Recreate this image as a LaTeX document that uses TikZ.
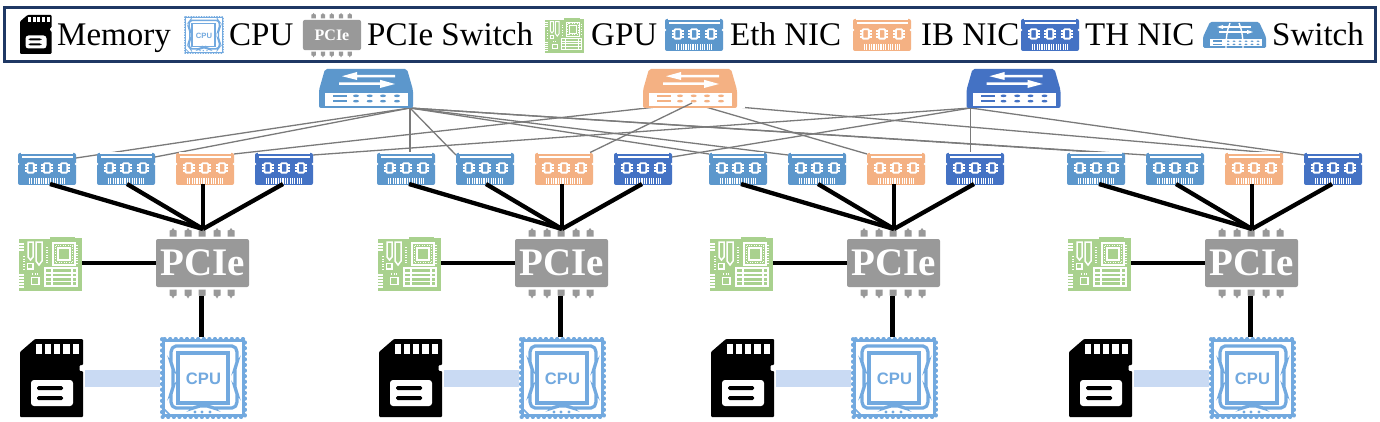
\documentclass[tikz,border=0pt]{standalone}
\usepackage{fontspec}
\setmainfont{Liberation Serif}
\newfontfamily\helvfam{Liberation Sans}
\usetikzlibrary{calc}
\definecolor{ethc}{HTML}{5C97CC}
\definecolor{ibc}{HTML}{F4B183}
\definecolor{thc}{HTML}{4472C4}
\definecolor{gpuc}{HTML}{A9D18E}
\definecolor{pciec}{HTML}{999999}
\definecolor{cpuc}{HTML}{72A9DF}
\definecolor{barc}{HTML}{C9DAF3}
\definecolor{navyc}{HTML}{1F3864}
\definecolor{linkc}{HTML}{7A7A7A}
\tikzset{
  iconbody/.style={shape=rectangle,inner sep=0pt,outer sep=0pt,draw=none,rounded corners=2pt},
  legendtext/.style={anchor=base west,inner sep=0pt,font=\fontsize{33}{33}\selectfont},
  thinlink/.style={draw=linkc,line width=1.3pt},
  thicklink/.style={draw=black,line width=4.3pt},
  membar/.style={fill=barc,draw=none,shape=rectangle,inner sep=0pt,outer sep=0pt},
}
% NIC: name, cx, cy, colour
\newcommand\nicicon[4]{%
  \node[iconbody,fill=#4,minimum width=58pt,minimum height=32pt] (#1) at (#2,#3) {};
  \begin{scope}[shift={(#1.north west)}]
    \fill[white] (2.6,-0.5) rectangle (55.4,1.4);
    \fill[white] (3.5,3.4) rectangle (54.5,4.9);
    \fill[white] (0,11) circle (1.3);
    \fill[white] (58,11) circle (1.3);
    \foreach \cx in {12.7,29,46}{
      \draw[white,line width=1.9pt,rounded corners=1pt] (\cx-3.2,10.3) rectangle (\cx+3.2,19.7);
      \foreach \py in {12,15,18}{
        \draw[white,line width=1.1pt] (\cx-5.8,\py) -- (\cx-3,\py);
        \draw[white,line width=1.1pt] (\cx+3,\py) -- (\cx+5.8,\py);
      }
    }
    \foreach \k in {0,...,15}{
      \fill[white] (11+\k*2.35,25.5) rectangle (12.1+\k*2.35,31);
    }
  \end{scope}
}
% big switch: name, cx, cy, colour
\newcommand\switchicon[4]{%
  \node[iconbody,minimum width=94pt,minimum height=39pt] (#1) at (#2,#3) {};
  \begin{scope}[shift={(#1.north west)}]
    \fill[#4,rounded corners=2pt] (6,0) -- (88,0) -- (94,21) -- (94,39) -- (0,39) -- (0,21) -- cycle;
    \fill[white] (6,24) rectangle (89,37);
    \fill[#4] (14,25.6) rectangle (28,28); \fill[#4] (14,31) rectangle (28,33.4);
    \foreach \cx in {37,50.7,64,78}{
      \fill[#4] (\cx,26.8) ellipse (3 and 1.3);
      \fill[#4] (\cx,32.2) ellipse (3 and 1.3);
    }
    \fill[white] (76,6) -- (38,6) -- (38,3) -- (23,7.2) -- (38,11) -- (38,8.4) -- (76,8.4) -- cycle;
    \fill[white] (20,13.4) -- (61,13.4) -- (61,10.8) -- (76,15) -- (61,19) -- (61,15.8) -- (20,15.8) -- cycle;
  \end{scope}
}
% legend switch: name, cx, cy, colour
\newcommand\smallswitchicon[4]{%
  \node[iconbody,minimum width=63pt,minimum height=26pt] (#1) at (#2,#3) {};
  \begin{scope}[shift={(#1.north west)}]
    \fill[#4,rounded corners=1.5pt] (7,0) -- (56,0) -- (63,15) -- (63,26) -- (0,26) -- (0,15) -- cycle;
    \fill[white] (7,17) rectangle (59,24.5);
    \fill[#4] (10,18.4) rectangle (19,20); \fill[#4] (10,21.6) rectangle (19,23.2);
    \foreach \cx in {25,31,37,43,49,55}{
      \fill[#4] (\cx,19.2) ellipse (1.6 and 0.8);
      \fill[#4] (\cx,22.4) ellipse (1.6 and 0.8);
    }
    \draw[white,line width=1.4pt] (16,5) -- (48,5);
    \draw[white,line width=1.4pt] (16,10) -- (48,10);
    \draw[white,line width=1.4pt] (27,1) .. controls (24,8) and (23,16) .. (23,26);
    \draw[white,line width=1.4pt] (36,1) .. controls (39,8) and (40,16) .. (40,26);
    \fill[white] (14,5) -- (20,3) -- (20,7) -- cycle;
    \fill[white] (50,10) -- (44,8) -- (44,12) -- cycle;
  \end{scope}
}
% PCIe: name, cx, cy(body), xscale, yscale, font size
\newcommand\pcieicon[6]{%
  \node[iconbody,fill=pciec,minimum width=#4*93pt,minimum height=#5*48pt,text=white,
        font=\bfseries\fontsize{#6}{#6}\selectfont] (#1) at (#2,#3) {PCIe};
  \begin{scope}[shift={(#1.north west)},xscale=#4,yscale=#5]
    \foreach \cx in {17,32,46,61,75}{
      \fill[pciec] (\cx-3.5,-2.5) -- (\cx-3.5,-8.5) -- (\cx-1.5,-9) -- (\cx,-11) -- (\cx+1.5,-9) -- (\cx+3.5,-8.5) -- (\cx+3.5,-2.5) -- cycle;
      \fill[pciec] (\cx-3.5,50.5) -- (\cx-3.5,56.5) -- (\cx-1.5,57) -- (\cx,59.5) -- (\cx+1.5,57) -- (\cx+3.5,56.5) -- (\cx+3.5,50.5) -- cycle;
    }
  \end{scope}
}
% GPU: name, cx, cy, scale
\newcommand\gpuicon[4]{%
  \node[iconbody,rounded corners=0pt,fill=gpuc,minimum width=#4*63pt,minimum height=#4*54pt] (#1) at (#2,#3) {};
  \begin{scope}[shift={(#1.north west)},scale=#4,draw=white,line width=#4*1.5pt]
    \fill[white] (-0.5,-0.5) rectangle (31,1.8);
    \fill[white] (56,-0.5) rectangle (63.5,0.8);
    \foreach \yy in {7,10,13}{\draw[white] (0,\yy) -- (5,\yy);}
    \foreach \yy in {38,41,44,47,50}{\draw[white] (0,\yy) -- (5,\yy);}
    \draw[white] (34,6) rectangle (56,28);
    \draw[white] (39,11) rectangle (51,23);
    \draw[white,dash pattern=on 1pt off 1.5pt] (36.5,8.5) rectangle (53.5,25.5);
    \draw[white] (9,5) -- (14,5) -- (14,20) -- (11.5,23) -- (9,20) -- cycle;
    \draw[white] (17,5) -- (23,5) -- (23,24) -- (20,28) -- (17,24) -- cycle;
    \draw[white] (8.5,26.5) rectangle (14,32);
    \draw[white] (12.5,40.5) rectangle (20,47.5);
    \draw[white,dash pattern=on 1pt off 1.5pt] (13,37) -- (20,37);
    \draw[white,dash pattern=on 1pt off 1.5pt] (28,10) -- (28,27);
    \draw[white,dash pattern=on 1pt off 1.5pt] (5,19) -- (5,32);
    \draw[white] (26,31) rectangle (58,49);
    \draw[white] (26,36) -- (58,36);
    \draw[white] (26,40) -- (58,40);
    \draw[white] (26,44.5) -- (58,44.5);
    \draw[white] (33,31) -- (33,49);
    \draw[white] (53,31) -- (53,49);
    \draw[white,dash pattern=on 1pt off 1.5pt] (58,8) -- (58,27);
  \end{scope}
}
% Memory: name, cx, cy, scale
\newcommand\memicon[4]{%
  \node[iconbody,minimum width=#4*64pt,minimum height=#4*78pt] (#1) at (#2,#3) {};
  \begin{scope}[shift={(#1.north west)},scale=#4]
    \fill[black,rounded corners=1pt] (0,13) -- (15,0) -- (63,0) -- (63,26) -- (59.5,26) -- (59.5,32) -- (63,32) -- (63,78) -- (0,78) -- cycle;
    \foreach \xa/\xb in {16/22,25/31,34/40,43/49.5,53/59}{
      \fill[white] (\xa,5) rectangle (\xb,15);
    }
    \fill[white,rounded corners=3pt] (11,41) rectangle (53,67);
    \fill[black,rounded corners=1.5pt] (17,47) rectangle (43,51);
    \fill[black,rounded corners=1.5pt] (17,57) rectangle (43,61);
  \end{scope}
}
% CPU: name, cx, cy, scale
\newcommand\cpuicon[4]{%
  \node[iconbody,rounded corners=0pt,minimum width=#4*87pt,minimum height=#4*82pt] (#1) at (#2,#3) {};
  \pgfmathsetmacro\cpuon{0.5*#4}
  \pgfmathsetmacro\cpugap{5.1*#4}
  \begin{scope}[shift={(#1.north west)},scale=#4]
    \draw[cpuc,line width=#4*3.8pt,line cap=round,dash pattern=on \cpuon pt off \cpugap pt] (2,2) rectangle (85,80);
    \draw[cpuc,line width=#4*2.2pt] (3.5,3.5) rectangle (83.5,78.5);
    \draw[cpuc,line width=#4*3.2pt,rounded corners=2pt] (14,9) -- (74,9) -- (77,13) -- (77,27) -- (75,30) -- (75,52) -- (77,55) -- (77,67) -- (74,71) -- (52,71) -- (49,69) -- (38,69) -- (35,71) -- (14,71) -- (11,67) -- (11,55) -- (13,52) -- (13,30) -- (11,27) -- (11,13) -- cycle;
    \draw[cpuc,line width=#4*3.6pt] (18,16) rectangle (68,66);
    \node[transform shape,inner sep=0pt,text=cpuc,font=\helvfam\bfseries\fontsize{16.6}{17}\selectfont] (#1t) at (43.5,42) {CPU};
    \foreach \cx in {35,42,50}{\fill[cpuc] (\cx,75) circle (1.6);}
    \draw[cpuc,line width=#4*1.6pt] (4,72) -- (10,78);
  \end{scope}
}
% server group: number, x offset
\newcommand\servergroup[2]{%
  \nicicon{g#1n1}{47+#2}{169}{ethc}
  \nicicon{g#1n2}{126+#2}{169}{ethc}
  \nicicon{g#1n3}{205+#2}{169}{ibc}
  \nicicon{g#1n4}{284+#2}{169}{thc}
  \pcieicon{g#1p}{202.5+#2}{263}{1}{1}{39}
  \gpuicon{g#1g}{50.5+#2}{264}{1}
  \memicon{g#1m}{52+#2}{378}{1}
  \cpuicon{g#1c}{203.5+#2}{378}{1}
  \coordinate (g#1hub) at (203+#2,229);
  \coordinate (g#1pb) at ([xshift=-1pt,yshift=-9pt]g#1p.south);
  \draw[thicklink] ([xshift=3pt,yshift=1pt]g#1n1.south) -- (g#1hub);
  \draw[thicklink] ([xshift=1pt,yshift=1pt]g#1n2.south) -- (g#1hub);
  \draw[thicklink] ([yshift=1pt]g#1n3.south -| g#1hub) -- (g#1hub);
  \draw[thicklink] ([xshift=-1pt,yshift=1pt]g#1n4.south) -- (g#1hub);
  \draw[thicklink] (g#1g.east |- g#1p.west) -- (g#1p.west);
  \draw[thicklink] (g#1pb) -- (g#1pb |- g#1c.north);
  \path let \p1=(g#1m.east), \p2=(g#1c.west) in
    node[membar,minimum height=17pt,minimum width=\x2-\x1-1pt,anchor=east] (g#1b) at ([yshift=-0.5pt]g#1c.west) {};
}
\begin{document}
\begin{tikzpicture}[x=1pt,y=-1pt]
\useasboundingbox (0,0) rectangle (1380,422);
\fill[white] (0,0) rectangle (1380,422);
% legend
\node[shape=rectangle,draw=navyc,line width=2.5pt,fill=white,minimum width=1371pt,minimum height=54pt,inner sep=0pt] (legend) at (690,34.5) {};
\memicon{lm}{36}{34.5}{0.5}
\node[legendtext] (lmt) at (57,46) {Memory};
\cpuicon{lc}{204}{35}{0.46}
\node[legendtext] (lct) at (229,46) {CPU};
\pcieicon{lp}{332}{35}{0.624}{0.63}{16}
\node[legendtext] (lpt) at (367,46) {PCIe Switch};
\gpuicon{lg}{564.5}{35.5}{0.63}
\node[legendtext] (lgt) at (591,46) {GPU};
\nicicon{le}{694}{35}{ethc}
\node[legendtext] (let) at (730,46) {Eth NIC};
\nicicon{li}{882}{35}{ibc}
\node[legendtext] (lit) at (921,46) {IB NIC};
\nicicon{lh}{1050}{35}{thc}
\node[legendtext] (lht) at (1085,46) {TH NIC};
\smallswitchicon{ls}{1234.5}{35}{ethc}
\node[legendtext] (lst) at (1272,46) {Switch};
% anchors of the icons, placed first so the links can run behind them
\foreach \gn/\dx in {1/0,2/359,3/691,4/1049}{
  \node[iconbody,minimum width=58pt,minimum height=32pt] (a\gn n1) at (47+\dx,169) {};
  \node[iconbody,minimum width=58pt,minimum height=32pt] (a\gn n2) at (126+\dx,169) {};
  \node[iconbody,minimum width=58pt,minimum height=32pt] (a\gn n3) at (205+\dx,169) {};
  \node[iconbody,minimum width=58pt,minimum height=32pt] (a\gn n4) at (284+\dx,169) {};
}
\node[iconbody,minimum width=94pt,minimum height=39pt] (a1) at (366,88.5) {};
\node[iconbody,minimum width=94pt,minimum height=39pt] (a2) at (690,88.5) {};
\node[iconbody,minimum width=94pt,minimum height=39pt] (a3) at (1013.5,88.5) {};
\coordinate (hubb) at ([xshift=-3pt]a1.south east);
\coordinate (hubo) at ([xshift=2pt,yshift=-14.5pt]a2.center);
\coordinate (hubt) at ([xshift=4pt]a3.south west);
% Ethernet links
\draw[thinlink] (hubb) -- ([yshift=-5pt]a1n1.north east);
\draw[thinlink] (hubb) -- ([yshift=-4pt]a1n2.north east);
\draw[thinlink] (hubb) -- (hubb |- a2n1.north);
\draw[thinlink] (hubb) -- ([yshift=-2pt]a2n2.north west);
\draw[thinlink] (hubb) -- ([yshift=-1pt]a3n1.north west);
\draw[thinlink] (hubb) -- ([yshift=-2pt]a3n2.north west);
\draw[thinlink] (hubb) -- ([yshift=-1pt]a4n1.north east);
\draw[thinlink] (hubb) -- ([yshift=-2pt]a4n2.north west);
% IB links
\draw[thinlink] (hubo) -- ([yshift=-1pt]a1n3.north east);
\draw[thinlink] (hubo) -- ([yshift=-1pt]a3n3.north west);
\draw[thinlink] (hubo) -- ([yshift=-1pt]a4n3.north east);
% TH links
\draw[thinlink] (hubt) -- ([yshift=-2pt]a1n4.north east);
\draw[thinlink] (hubt) -- ([yshift=-4pt]a2n4.north east);
\draw[thinlink] (hubt) -- (hubt |- a3n4.north);
\draw[thinlink] (hubt) -- ([yshift=-2pt]a4n4.north west);
% white margin of the orange switch picture
\fill[white] (638,69) rectangle (745,108);
% switches
\switchicon{s1}{366}{88.5}{ethc}
\switchicon{s2}{690}{88.5}{ibc}
\switchicon{s3}{1013.5}{88.5}{thc}
\draw[thinlink] (hubo) -- ([xshift=24pt,yshift=-0.5pt]a2n3.north);
% servers
\servergroup{1}{0}
\servergroup{2}{359}
\servergroup{3}{691}
\servergroup{4}{1049}
\end{tikzpicture}
\end{document}
